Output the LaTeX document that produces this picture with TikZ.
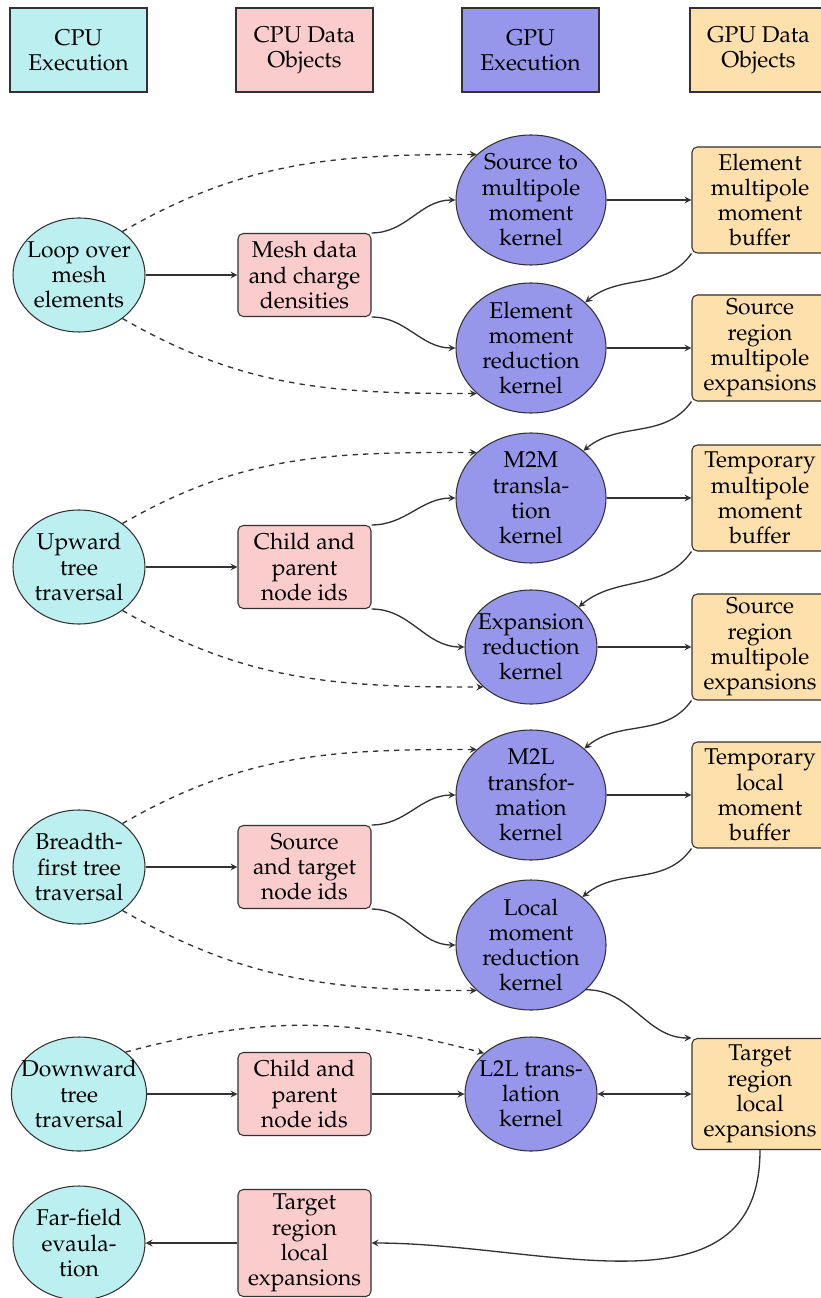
\documentclass[tikz,border=0pt]{standalone}
\usepackage[T1]{fontenc}
\usepackage{mathpazo}
\usepackage{tikz}
\usetikzlibrary{shapes,arrows,positioning}
\definecolor{cpucol}{RGB}{188,240,240}
\definecolor{cpudatacol}{RGB}{250,204,204}
\definecolor{gpucol}{RGB}{150,150,234}
\definecolor{gpudatacol}{RGB}{253,224,172}
\definecolor{edgecol}{RGB}{50,50,50}
\tikzset{
	->,
	>=stealth,
	every node/.style={font=\fontsize{13}{14.4}\selectfont, align=center, text=black},
	legend/.style={rectangle, draw=edgecol, line width=0.8pt, minimum width=2.74cm, minimum height=1.68cm},
	cpuexec/.style={ellipse, draw=edgecol, line width=0.6pt, fill=cpucol, inner sep=-0.2cm, minimum width=2.64cm, minimum height=2.28cm},
	gpuexec/.style={ellipse, draw=edgecol, line width=0.6pt, fill=gpucol, inner sep=-0.2cm, minimum width=3cm, minimum height=2.6cm},
	gpusmall/.style={gpuexec, minimum width=2.64cm, minimum height=2.28cm},
	cpudata/.style={rectangle, rounded corners=3pt, draw=edgecol, line width=0.6pt, fill=cpudatacol, minimum width=2.66cm, minimum height=1.66cm, inner sep=2pt},
	gpudata/.style={rectangle, rounded corners=3pt, draw=edgecol, line width=0.6pt, fill=gpudatacol, minimum width=2.72cm, minimum height=2.12cm, inner sep=2pt},
	flow/.style={edgecol, line width=0.75pt},
	launch/.style={flow, dashed},
}

\begin{document}
\begin{tikzpicture}
	\useasboundingbox (0,0) rectangle (16.4,-25.96);

	% legend
	\node[legend, fill=cpucol] (lcpu) at (1.57,-1.0) {CPU\\Execution};
	\node[legend, fill=cpudatacol] (lcpudata) at (6.09,-1.0) {CPU Data\\Objects};
	\node[legend, fill=gpucol] (lgpu) at (10.61,-1.0) {GPU\\Execution};
	\node[legend, fill=gpudatacol] (lgpudata) at (15.17,-1.0) {GPU Data\\Objects};

	% source to multipole
	\node[cpuexec] (loop) at (1.58,-5.5) {Loop over\\mesh\\elements};
	\node[cpudata] (mesh) at (6.09,-5.5) {Mesh data\\and charge\\densities};
	\node[gpuexec] (s2m) at (10.62,-4.0) {Source to\\multipole\\moment\\kernel};
	\node[gpuexec] (emr) at (10.62,-6.96) {Element\\moment\\reduction\\kernel};
	\node[gpudata] (emb) at (15.2,-4.0) {Element\\multipole\\moment\\buffer};
	\node[gpudata] (sre1) at (15.2,-6.96) {Source\\region\\multipole\\expansions};

	% upward pass
	\node[cpuexec] (up) at (1.58,-11.34) {Upward\\tree\\traversal};
	\node[cpudata] (ids1) at (6.09,-11.34) {Child and\\parent\\node ids};
	\node[gpuexec] (m2m) at (10.62,-9.96) {M2M\\transla-\\tion\\kernel};
	\node[gpusmall] (exr) at (10.62,-12.94) {Expansion\\reduction\\kernel};
	\node[gpudata] (tmb) at (15.2,-9.96) {Temporary\\multipole\\moment\\buffer};
	\node[gpudata] (sre2) at (15.2,-12.94) {Source\\region\\multipole\\expansions};

	% interaction lists
	\node[cpuexec] (bft) at (1.58,-17.34) {Breadth-\\first tree\\traversal};
	\node[cpudata] (stids) at (6.09,-17.34) {Source\\and target\\node ids};
	\node[gpuexec] (m2l) at (10.62,-15.9) {M2L\\transfor-\\mation\\kernel};
	\node[gpuexec] (lmr) at (10.62,-18.9) {Local\\moment\\reduction\\kernel};
	\node[gpudata] (tlb) at (15.2,-15.9) {Temporary\\local\\moment\\buffer};

	% downward pass
	\node[cpuexec] (down) at (1.58,-21.88) {Downward\\tree\\traversal};
	\node[cpudata] (ids2) at (6.09,-21.88) {Child and\\parent\\node ids};
	\node[gpusmall] (l2l) at (10.62,-21.88) {L2L trans-\\lation\\kernel};
	\node[gpudata, minimum height=2.22cm] (tlg) at (15.2,-21.88) {Target\\region\\local\\expansions};

	% evaluation
	\node[cpuexec] (far) at (1.58,-24.86) {Far-field\\evaula-\\tion};
	\node[cpudata, minimum height=2.14cm] (tlc) at (6.09,-24.86) {Target\\region\\local\\expansions};

	% edges, source to multipole
	\draw[flow] (loop) -- (mesh);
	\draw[flow] (mesh.north east) to[out=0,in=180] (s2m.west);
	\draw[flow] (mesh.south east) to[out=0,in=180] (emr.west);
	\draw[launch] (loop.45) to[out=30,in=180] (s2m.140);
	\draw[launch] (loop.-45) to[out=-30,in=180] (emr.-140);
	\draw[flow] (s2m) -- (emb);
	\draw[flow] (emb.south west) to[out=-125,in=40] (emr.40);
	\draw[flow] (emr) -- (sre1);
	\draw[flow] (sre1.south west) to[out=-125,in=40] (m2m.42);

	% edges, upward pass
	\draw[flow] (up) -- (ids1);
	\draw[flow] (ids1.north east) to[out=0,in=180] (m2m.west);
	\draw[flow] (ids1.south east) to[out=0,in=180] (exr.west);
	\draw[launch] (up.45) to[out=30,in=180] (m2m.140);
	\draw[launch] (up.-45) to[out=-30,in=180] (exr.-140);
	\draw[flow] (m2m) -- (tmb);
	\draw[flow] (tmb.south west) to[out=-125,in=40] (exr.40);
	\draw[flow] (exr) -- (sre2);
	\draw[flow] (sre2.south west) to[out=-125,in=40] (m2l.41);

	% edges, interaction lists
	\draw[flow] (bft) -- (stids);
	\draw[flow] (stids.north east) to[out=0,in=180] (m2l.west);
	\draw[flow] (stids.south east) to[out=0,in=180] (lmr.west);
	\draw[launch] (bft.45) to[out=30,in=180] (m2l.140);
	\draw[launch] (bft.-45) to[out=-30,in=180] (lmr.-140);
	\draw[flow] (m2l) -- (tlb);
	\draw[flow] (tlb.south west) to[out=-125,in=40] (lmr.43);
	\draw[flow] (lmr.-39) to[out=0,in=180] (tlg.north west);

	% edges, downward pass and evaluation
	\draw[flow] (down) -- (ids2);
	\draw[flow] (ids2) -- (l2l);
	\draw[flow,<->] (l2l) -- (tlg);
	\draw[launch] (down.42) to[out=15,in=165] (l2l.139);
	\draw[flow] (tlg.south) to[out=-90,in=0,looseness=1.1] (tlc.east);
	\draw[flow] (tlc) -- (far);
\end{tikzpicture}
\end{document}
